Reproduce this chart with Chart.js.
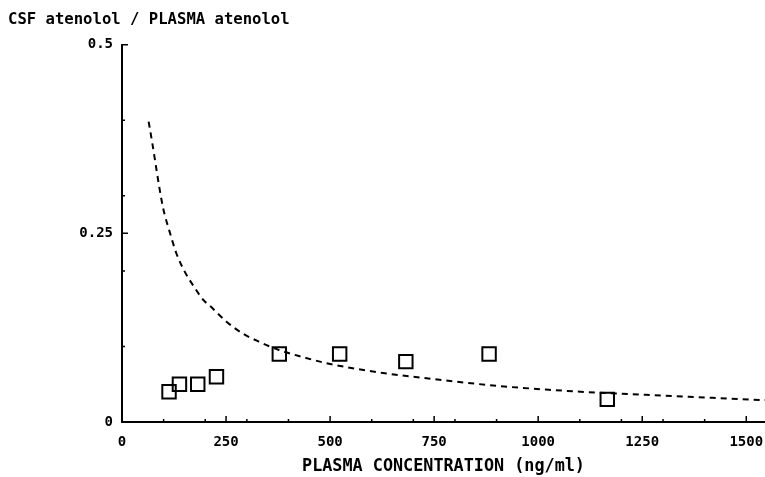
<!DOCTYPE html>
<html>
<head>
<meta charset="utf-8">
<script src="https://cdn.jsdelivr.net/npm/chart.js@4"></script>
<style>
  html, body { margin: 0; padding: 0; background: #fff; }
  #wrap { width: 765px; height: 477px; }
</style>
</head>
<body>
<div id="wrap"><canvas id="canvas" width="765" height="477"></canvas></div>
<script>
// measured points: plasma concentration (ng/ml) vs CSF/plasma ratio
const plasmaConc = [113, 138, 182, 227, 378, 523, 682, 882, 1166]
const csfRatio = [0.04, 0.05, 0.05, 0.06, 0.09, 0.09, 0.08, 0.09, 0.03]

// dashed fitted curve
const curveX = [64, 73, 81, 90, 99, 114, 131, 151, 171, 195, 211, 251, 291, 331, 379, 435, 491, 627, 747, 899, 1019, 1139, 1259, 1419, 1545]
const curveY = [0.398, 0.369, 0.341, 0.310, 0.283, 0.253, 0.223, 0.199, 0.181, 0.162, 0.154, 0.133, 0.117, 0.106, 0.095, 0.086, 0.078, 0.065, 0.057, 0.048, 0.043, 0.039, 0.036, 0.032, 0.029]

// axis ticks
const xTickLabels = [0, 250, 500, 750, 1000, 1250, 1500]
const yTickLabels = [0, 0.25, 0.5]
const xMinor = 100
const yMinor = 0.1

const font = 'DejaVu Sans Mono'

const tickMarks = {
    id: 'tickMarks',
    afterDraw(chart) {
        const ctx = chart.ctx
        const x = chart.scales.x, y = chart.scales.y
        const x0 = x.left, y0 = y.bottom
        ctx.save()
        ctx.strokeStyle = '#000'
        ctx.lineWidth = 1.5
        ctx.beginPath()
        for (let i = 0; i * xMinor <= x.max; i++) {
            const px = x.getPixelForValue(i * xMinor)
            ctx.moveTo(px, y0); ctx.lineTo(px, y0 - 3)
        }
        xTickLabels.forEach(v => {
            const px = x.getPixelForValue(v)
            ctx.moveTo(px, y0); ctx.lineTo(px, y0 - 6)
        })
        for (let i = 0; i * yMinor <= y.max + 1e-9; i++) {
            const py = y.getPixelForValue(i * yMinor)
            ctx.moveTo(x0, py); ctx.lineTo(x0 + 3, py)
        }
        yTickLabels.forEach(v => {
            const py = y.getPixelForValue(v)
            ctx.moveTo(x0, py); ctx.lineTo(x0 + 6, py)
        })
        ctx.stroke()
        ctx.restore()
    }
}

const data = {
    datasets: [
        {
            type: 'scatter',
            label: 'measured',
            data: plasmaConc.map((v, i) => ({ x: v, y: csfRatio[i] })),
            pointStyle: 'rect',
            pointRadius: 9.5,
            pointBorderWidth: 2,
            pointBorderColor: '#000',
            pointBackgroundColor: 'rgba(0,0,0,0)',
        },
        {
            type: 'line',
            label: 'fit',
            data: curveX.map((v, i) => ({ x: v, y: curveY[i] })),
            borderColor: '#000',
            borderWidth: 2,
            borderDash: [6, 5],
            pointRadius: 0,
            cubicInterpolationMode: 'monotone',
            fill: false,
        }
    ]
}

const config = {
    type: 'scatter',
    data: data,
    plugins: [tickMarks],
    options: {
        responsive: false,
        animation: false,
        layout: { autoPadding: false, padding: { left: 8, right: 0, top: 0, bottom: 0 } },
        plugins: {
            legend: { display: false },
            tooltip: { enabled: false },
            title: {
                display: true,
                text: 'CSF atenolol / PLASMA atenolol',
                align: 'start',
                color: '#000',
                font: { family: font, size: 15.6, weight: 'bold' },
                padding: { top: 11, bottom: 15 },
            },
        },
        scales: {
            x: {
                type: 'linear',
                min: 0,
                max: 1545,
                grid: { display: false, drawTicks: false },
                border: { display: true, color: '#000', width: 2 },
                afterBuildTicks: s => { s.ticks = xTickLabels.map(v => ({ value: v })) },
                ticks: {
                    autoSkip: false,
                    maxRotation: 0,
                    color: '#000',
                    padding: 12,
                    font: { family: font, size: 14, weight: 'bold' },
                    callback: v => String(v),
                },
                title: {
                    display: true,
                    text: 'PLASMA CONCENTRATION (ng/ml)',
                    color: '#000',
                    font: { family: font, size: 16.8, weight: 'bold' },
                    padding: { top: 4, bottom: 0 },
                },
                afterFit: s => {
                    s.height = 55
                    s.paddingLeft = 0
                    s.paddingRight = 0
                },
            },
            y: {
                type: 'linear',
                min: 0,
                max: 0.5,
                grid: { display: false, drawTicks: false },
                border: { display: true, color: '#000', width: 2 },
                afterBuildTicks: s => { s.ticks = yTickLabels.map(v => ({ value: v })) },
                ticks: {
                    color: '#000',
                    padding: 9,
                    font: { family: font, size: 14, weight: 'bold' },
                    callback: v => String(v),
                },
                afterFit: s => { s.width = 114 },
            }
        }
    }
}

const canvas = document.getElementById('canvas')
const chart = new Chart(canvas, config)
</script>
</body>
</html>
